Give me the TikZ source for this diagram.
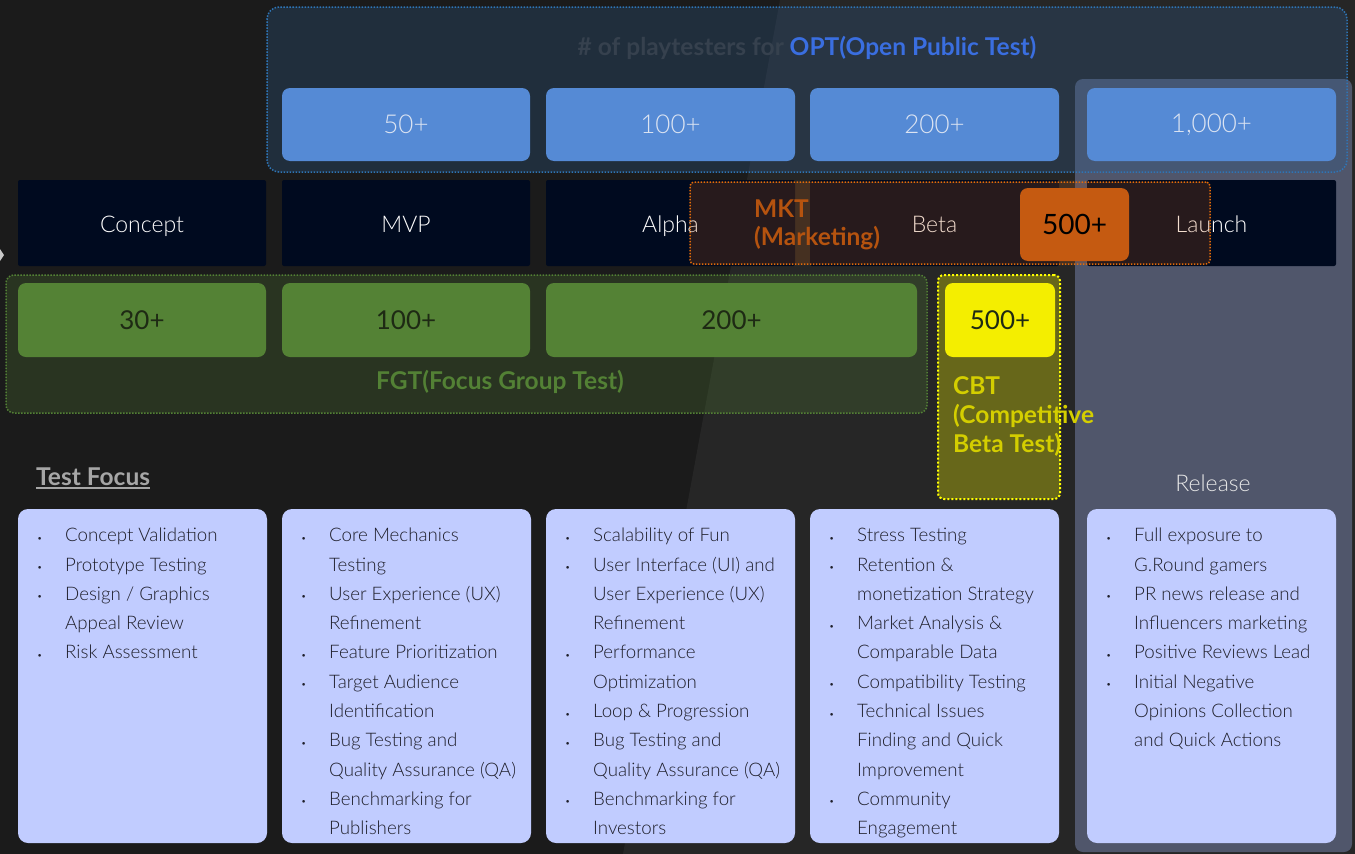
\documentclass[tikz,border=0pt]{standalone}
\usepackage{fontspec}
\IfFontExistsTF{Lato Light}{\setmainfont{Lato Light}}{\setmainfont{Lato}}
\newfontfamily\condfont{Lato}
\definecolor{bgL}{HTML}{1B1B1B}
\definecolor{bgR}{HTML}{262626}
\definecolor{relcol}{HTML}{50566B}
\definecolor{optfill}{HTML}{2E5A8A}
\definecolor{optborder}{HTML}{2E75B6}
\definecolor{numfill}{HTML}{558AD5}
\definecolor{numtext}{HTML}{DCE4F2}
\definecolor{stagefill}{HTML}{000A1F}
\definecolor{mktfill}{HTML}{C55A11}
\definecolor{mktborder}{HTML}{E46C0A}
\definecolor{mkttext}{HTML}{B5530F}
\definecolor{fgtfill}{HTML}{548235}
\definecolor{fgttext}{HTML}{538135}
\definecolor{greennum}{HTML}{1E2A14}
\definecolor{cbtyellow}{HTML}{FFFF00}
\definecolor{cbtlabel}{HTML}{D4CE00}
\definecolor{yellowbox}{HTML}{F4EE00}
\definecolor{listfill}{HTML}{C1CCFF}
\definecolor{listtext}{HTML}{1F1F2B}
\definecolor{tfgray}{HTML}{A6A6A6}
\definecolor{titlegray}{HTML}{36414E}
\definecolor{optblue}{HTML}{3A6EE0}
\definecolor{reltext}{HTML}{E8E8E8}
\definecolor{chev}{HTML}{C8C8C8}
\newcommand\numfont{\fontsize{26}{30}\selectfont}
\newcommand\darknumfont{\condfont\fontsize{26}{30}\selectfont}
\newcommand\stagefont{\fontsize{23}{28}\selectfont}
\newcommand\listfont{\fontsize{18.7}{29.3}\selectfont}
\newcommand\labfont{\condfont\bfseries\fontsize{24.5}{28.5}\selectfont}
\newcommand\bulx{\makebox[28pt][l]{\raisebox{0.5pt}{\fontsize{9}{9}\selectfont\textbullet}}}
\newcommand\lstind{\hspace*{28pt}}
\newcommand\ulx[1]{\setbox0\hbox{#1}\rlap{\rule[-3.5pt]{\wd0}{1.6pt}}\box0}
\tikzset{
  optnum/.style={fill=numfill, rounded corners=8pt, text=numtext, font=\numfont, minimum height=73pt, inner sep=0pt},
  stage/.style={fill=stagefill, rounded corners=2pt, text=white, font=\stagefont, minimum height=86pt, inner sep=0pt, text height=20pt, text depth=2pt},
  grn/.style={fill=fgtfill, rounded corners=8pt, text=greennum, font=\darknumfont, minimum height=74pt, inner sep=0pt},
  listbox/.style={fill=listfill, rounded corners=10pt, minimum width=249pt, minimum height=334pt, inner sep=0pt},
  listtxt/.style={anchor=north west, inner sep=0pt, align=left, text=listtext, font=\listfont},
  dotline/.style={line width=1.5pt, dash pattern=on 1.5pt off 1.5pt},
  grplabel/.style={font=\labfont, inner sep=0pt}
}
\begin{document}
\begin{tikzpicture}[x=1pt,y=-1pt]
\useasboundingbox (0,0) rectangle (1355,854);
% background
\fill[bgL] (0,0) rectangle (1355,854);
\fill[bgR] (780,0) -- (1355,0) -- (1355,854) -- (623,854) -- cycle;
\fill[chev] (0,249) -- (4,255) -- (0,261) -- cycle;
% release column
\node[fill=relcol, rounded corners=8pt, minimum width=277pt, minimum height=773pt, inner sep=0pt] (relcolumn) at (1213.5,465.5) {};
% OPT group
\node[fill=optfill, fill opacity=0.3, draw=optborder, dotline, rounded corners=12pt, minimum width=1080pt, minimum height=165pt, inner sep=0pt] (optgrp) at (807,89.5) {};
\node[grplabel] (opttitle) at (807,48) {\textcolor{titlegray}{\# of playtesters for }\textcolor{optblue}{OPT(Open Public Test)}};
\node[optnum, minimum width=248pt] (o50) at (406,124.5) {50+};
\node[optnum, minimum width=249pt] (o100) at (670.5,124.5) {100+};
\node[optnum, minimum width=249pt] (o200) at (934.5,124.5) {200+};
\node[optnum, minimum width=249pt] (o1000) at (1211.5,124.5) {1,000+};
% stages
\node[stage, minimum width=248pt] (concept) at (142,223) {Concept};
\node[stage, minimum width=248pt] (mvp) at (406,223) {MVP};
\node[stage, minimum width=249pt] (alpha) at (670.5,223) {Alpha};
\node[stage, minimum width=249pt] (beta) at (934.5,223) {Beta};
\node[stage, minimum width=249pt] (launch) at (1211.5,223) {Launch};
% MKT group
\node[fill=mktfill, fill opacity=0.2, draw=mktborder, dotline, rounded corners=4pt, minimum width=520pt, minimum height=82pt, inner sep=0pt] (mktgrp) at (950,223) {};
\node[grplabel, text=mkttext, anchor=west, align=left] (mktlabel) at (754,225) {MKT\\(Marketing)};
\node[fill=mktfill, rounded corners=8pt, minimum width=109pt, minimum height=73pt, inner sep=0pt, text=black, font=\condfont\fontsize{28}{32}\selectfont] (mkt500) at (1074.5,224.5) {500+};
% FGT group
\node[fill=fgtfill, fill opacity=0.25, draw=fgttext, dotline, rounded corners=8pt, minimum width=921pt, minimum height=138pt, inner sep=0pt] (fgtgrp) at (466.5,344) {};
\node[grn, minimum width=248pt] (g30) at (142,320) {30+};
\node[grn, minimum width=248pt] (g100) at (406,320) {100+};
\node[grn, minimum width=371pt] (g200) at (731.5,320) {200+};
\node[grplabel, text=fgttext] (fgtlabel) at (500,382) {FGT(Focus Group Test)};
% CBT group
\node[fill=cbtyellow, fill opacity=0.3, draw=cbtyellow, line width=2pt, dash pattern=on 2pt off 2pt, rounded corners=6pt, minimum width=122pt, minimum height=224pt, inner sep=0pt] (cbtgrp) at (999,387) {};
\node[fill=yellowbox, rounded corners=8pt, minimum width=110pt, minimum height=74pt, inner sep=0pt, text=greennum, font=\darknumfont] (cbt500) at (1000,320) {500+};
\node[grplabel, text=cbtlabel, anchor=west, align=left, font=\condfont\bfseries\fontsize{24.5}{29}\selectfont] (cbtlabel) at (953,416) {CBT\\(Competitive\\Beta Test)};
% headings
\node[grplabel, text=tfgray, anchor=west] (testfocus) at (36,478) {\ulx{Test Focus}};
\node[text=reltext, font=\stagefont, inner sep=0pt] (reltitle) at (1213,483) {Release};
% list boxes
\node[listbox] (b1) at (142.5,676) {};
\node[listbox] (b2) at (406.5,676) {};
\node[listbox] (b3) at (670.5,676) {};
\node[listbox] (b4) at (934.5,676) {};
\node[listbox] (b5) at (1211.5,676) {};
\node[listtxt] (t1) at (37,521) {\strut\bulx Concept Validation\\\bulx Prototype Testing\\\bulx Design / Graphics\\\lstind Appeal Review\\\bulx Risk Assessment};
\node[listtxt] (t2) at (301,521) {\strut\bulx Core Mechanics\\\lstind Testing\\\bulx User Experience (UX)\\\lstind Refinement\\\bulx Feature Prioritization\\\bulx Target Audience\\\lstind Identification\\\bulx Bug Testing and\\\lstind Quality Assurance (QA)\\\bulx Benchmarking for\\\lstind Publishers};
\node[listtxt] (t3) at (565,521) {\strut\bulx Scalability of Fun\\\bulx User Interface (UI) and\\\lstind User Experience (UX)\\\lstind Refinement\\\bulx Performance\\\lstind Optimization\\\bulx Loop \& Progression\\\bulx Bug Testing and\\\lstind Quality Assurance (QA)\\\bulx Benchmarking for\\\lstind Investors};
\node[listtxt] (t4) at (829,521) {\strut\bulx Stress Testing\\\bulx Retention \&\\\lstind monetization Strategy\\\bulx Market Analysis \&\\\lstind Comparable Data\\\bulx Compatibility Testing\\\bulx Technical Issues\\\lstind Finding and Quick\\\lstind Improvement\\\bulx Community\\\lstind Engagement};
\node[listtxt] (t5) at (1106,521) {\strut\bulx Full exposure to\\\lstind G.Round gamers\\\bulx PR news release and\\\lstind Influencers marketing\\\bulx Positive Reviews Lead\\\bulx Initial Negative\\\lstind Opinions Collection\\\lstind and Quick Actions};
\end{tikzpicture}
\end{document}
